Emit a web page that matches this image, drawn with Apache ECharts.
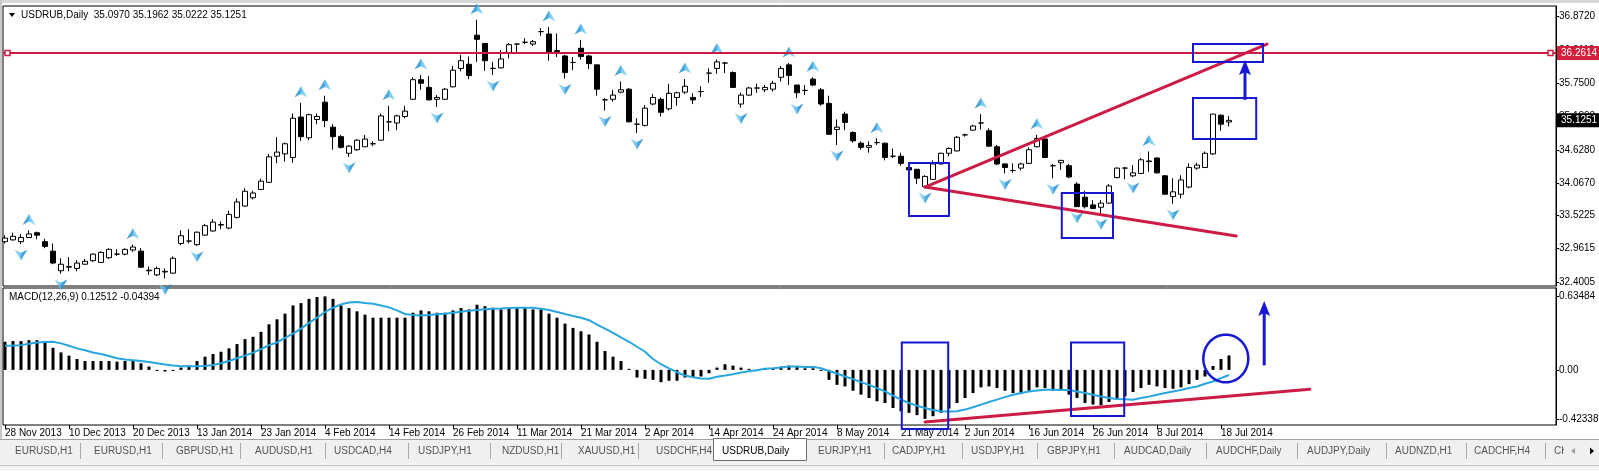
<!DOCTYPE html>
<html><head><meta charset="utf-8">
<script src="https://cdn.jsdelivr.net/npm/echarts@6/dist/echarts.min.js"></script>
<style>html,body{margin:0;padding:0;background:#fff;overflow:hidden}#c{width:1599px;height:471px}</style>
</head><body><div id="c"></div>
<script>
// ---------- data ----------
const dateLabels = ['28 Nov 2013','10 Dec 2013','20 Dec 2013','13 Jan 2014','23 Jan 2014','4 Feb 2014','14 Feb 2014','26 Feb 2014','11 Mar 2014','21 Mar 2014','2 Apr 2014','14 Apr 2014','24 Apr 2014','8 May 2014','21 May 2014','2 Jun 2014','16 Jun 2014','26 Jun 2014','8 Jul 2014','18 Jul 2014'];
const opens = [33.08,33.11,33.08,33.15,33.23,33.08,32.92,32.59,32.65,32.63,
32.70,32.76,32.73,32.81,32.87,32.87,32.94,32.92,32.59,32.52,
32.57,32.55,33.05,33.09,33.03,33.19,33.26,33.36,33.31,33.49,
33.68,33.82,33.96,34.08,34.52,34.56,34.50,35.18,34.83,35.14,
35.43,35.01,34.85,34.57,34.63,34.68,34.73,34.79,35.10,35.08,
35.19,35.48,35.81,35.68,35.48,35.48,35.69,36.00,36.07,36.56,
36.42,36.00,36.01,36.27,36.41,36.44,36.41,36.62,36.58,36.30,
36.21,36.10,36.34,36.21,36.06,35.47,35.48,35.60,35.65,35.06,
35.04,35.40,35.48,35.32,35.51,35.60,35.51,35.61,35.92,36.00,
36.09,35.93,35.40,35.55,35.67,35.64,35.65,35.85,36.06,35.72,
35.63,35.82,35.64,35.41,34.97,35.23,34.92,34.74,34.67,34.75,
34.74,34.52,34.52,34.33,34.30,34.01,34.13,34.39,34.57,34.61,
34.88,34.96,35.08,34.95,34.68,34.39,34.28,34.32,34.40,34.68,
34.81,34.36,34.41,34.36,34.05,33.83,33.70,33.66,33.73,34.16,
34.32,34.19,34.23,34.44,34.49,34.19,33.84,33.88,34.00,34.32,
34.33,34.56,35.21,35.0970];
const highs = [33.19,33.23,33.21,33.27,33.25,33.13,33.05,32.80,32.82,32.77,
32.79,32.88,32.92,32.97,32.95,32.97,33.03,32.97,32.66,32.66,
32.63,32.83,33.27,33.29,33.25,33.38,33.46,33.42,33.60,33.81,
33.98,33.94,34.14,34.56,34.84,34.75,35.24,35.42,35.24,35.24,
35.54,35.06,34.88,34.71,34.81,34.88,34.77,35.24,35.37,35.22,
35.37,35.85,35.89,35.87,35.55,35.67,36.04,36.23,36.20,36.82,
36.43,36.11,36.31,36.43,36.42,36.51,36.48,36.68,36.70,36.59,
36.23,36.19,36.48,36.23,36.06,35.50,35.64,35.78,35.67,35.16,
35.38,35.57,35.51,35.74,35.61,35.82,35.58,35.70,36.00,36.15,
36.11,35.95,35.59,35.69,35.74,35.72,35.79,36.04,36.09,35.72,
35.72,35.85,35.67,35.54,35.14,35.27,34.94,34.77,34.77,34.82,
34.75,34.65,34.58,34.34,34.30,34.20,34.45,34.58,34.67,34.86,
34.90,35.05,35.23,34.99,34.71,34.40,34.40,34.41,34.67,34.88,
34.84,34.39,34.46,34.39,34.08,33.94,33.78,33.78,34.05,34.33,
34.34,34.37,34.49,34.60,34.50,34.20,34.15,34.20,34.40,34.41,
34.60,35.23,35.23,35.1962];
const lows = [33.05,33.10,33.04,33.14,33.12,32.97,32.70,32.54,32.58,32.58,
32.69,32.74,32.72,32.79,32.84,32.85,32.91,32.64,32.52,32.50,
32.46,32.54,33.02,33.05,33.01,33.18,33.25,33.29,33.29,33.47,
33.67,33.79,33.95,34.08,34.40,34.43,34.41,34.78,34.79,35.06,
35.01,34.63,34.65,34.51,34.61,34.68,34.69,34.78,34.94,34.96,
35.16,35.47,35.64,35.46,35.35,35.47,35.68,35.95,35.82,36.11,
35.96,35.89,36.00,36.17,36.27,36.41,36.38,36.55,36.13,36.19,
35.83,35.97,36.15,35.99,35.54,35.29,35.44,35.58,35.09,34.91,
35.02,35.38,35.19,35.29,35.37,35.57,35.40,35.52,35.76,35.91,
35.92,35.68,35.34,35.54,35.59,35.60,35.61,35.78,35.72,35.50,
35.55,35.70,35.37,34.89,34.71,34.96,34.75,34.63,34.58,34.71,
34.45,34.49,34.36,34.28,34.05,34.00,34.12,34.38,34.52,34.60,
34.85,34.95,34.97,34.68,34.37,34.23,34.24,34.28,34.39,34.67,
34.49,34.15,34.29,34.15,33.67,33.64,33.64,33.56,33.72,34.15,
34.13,34.17,34.22,34.26,34.23,33.88,33.72,33.81,33.98,34.29,
34.32,34.54,34.95,35.0222];
const closes = [33.14,33.17,33.15,33.21,33.19,33.00,32.72,32.70,32.66,32.72,
32.75,32.87,32.90,32.95,32.87,32.95,32.99,32.65,32.60,32.63,
32.58,32.80,33.18,33.09,33.24,33.35,33.41,33.37,33.54,33.75,
33.93,33.90,34.10,34.51,34.59,34.73,35.16,34.85,35.22,35.19,
35.12,34.85,34.67,34.69,34.79,34.81,34.73,35.20,35.10,35.20,
35.28,35.81,35.75,35.47,35.51,35.65,35.97,36.13,35.88,36.49,
36.13,36.00,36.16,36.40,36.41,36.44,36.45,36.62,36.27,36.28,
35.93,36.10,36.20,36.08,35.65,35.47,35.55,35.64,35.10,35.06,
35.33,35.51,35.26,35.58,35.59,35.70,35.47,35.61,35.92,36.11,
36.09,35.68,35.55,35.67,35.67,35.68,35.75,36.00,35.88,35.59,
35.63,35.72,35.40,34.89,35.01,35.09,34.78,34.67,34.70,34.75,
34.50,34.52,34.40,34.29,34.15,34.18,34.39,34.57,34.65,34.84,
34.88,35.03,35.08,34.69,34.39,34.33,34.28,34.39,34.63,34.82,
34.50,34.36,34.45,34.17,33.67,33.67,33.64,33.73,34.02,34.32,
34.32,34.24,34.46,34.43,34.24,33.88,33.92,34.12,34.33,34.37,
34.57,35.23,35.06,35.1251];
const macdMain = [0.243,0.249,0.249,0.257,0.257,0.237,0.191,0.151,0.123,0.094,
0.077,0.077,0.077,0.077,0.071,0.077,0.077,0.057,0.029,-0.009,
-0.014,-0.009,0.020,0.037,0.077,0.114,0.137,0.157,0.186,0.223,
0.266,0.286,0.329,0.394,0.437,0.486,0.557,0.577,0.614,0.630,
0.635,0.614,0.557,0.534,0.506,0.477,0.451,0.451,0.451,0.451,
0.451,0.494,0.514,0.506,0.494,0.494,0.514,0.534,0.523,0.563,
0.551,0.537,0.523,0.534,0.534,0.534,0.523,0.523,0.486,0.451,
0.400,0.363,0.334,0.306,0.243,0.163,0.114,0.077,0.009,-0.066,
-0.077,-0.086,-0.106,-0.094,-0.094,-0.066,-0.066,-0.057,-0.029,0.020,
0.049,0.037,0.020,0.009,0.003,0.009,0.014,0.029,0.037,0.029,
0.014,0.014,-0.009,-0.086,-0.129,-0.143,-0.180,-0.214,-0.243,-0.271,
-0.286,-0.329,-0.357,-0.371,-0.391,-0.423,-0.400,-0.371,-0.334,-0.286,
-0.243,-0.200,-0.151,-0.143,-0.157,-0.180,-0.200,-0.209,-0.180,-0.151,
-0.157,-0.180,-0.180,-0.214,-0.243,-0.286,-0.300,-0.306,-0.277,-0.257,
-0.229,-0.191,-0.157,-0.129,-0.143,-0.157,-0.163,-0.151,-0.123,-0.086,
-0.057,0.034,0.094,0.12512];
const macdSignal = [0.209,0.211,0.214,0.225,0.237,0.242,0.243,0.229,0.209,0.186,
0.169,0.151,0.137,0.120,0.100,0.089,0.083,0.077,0.069,0.057,
0.046,0.037,0.031,0.031,0.031,0.034,0.043,0.057,0.077,0.100,
0.123,0.149,0.180,0.214,0.237,0.277,0.314,0.357,0.406,0.451,
0.500,0.537,0.566,0.583,0.586,0.577,0.571,0.557,0.540,0.514,
0.483,0.474,0.471,0.474,0.480,0.486,0.494,0.503,0.511,0.517,
0.523,0.529,0.531,0.534,0.537,0.537,0.537,0.529,0.517,0.500,
0.483,0.466,0.451,0.429,0.391,0.357,0.320,0.280,0.243,0.200,
0.157,0.094,0.049,0.014,-0.020,-0.049,-0.063,-0.074,-0.077,-0.060,
-0.049,-0.037,-0.023,-0.011,-0.003,0.009,0.014,0.020,0.029,0.029,
0.026,0.026,0.014,-0.009,-0.031,-0.057,-0.080,-0.106,-0.129,-0.157,
-0.186,-0.223,-0.257,-0.286,-0.309,-0.329,-0.346,-0.357,-0.360,-0.357,
-0.343,-0.323,-0.300,-0.277,-0.257,-0.235,-0.215,-0.200,-0.186,-0.177,
-0.171,-0.171,-0.174,-0.174,-0.186,-0.200,-0.214,-0.229,-0.243,-0.251,
-0.254,-0.257,-0.243,-0.231,-0.214,-0.200,-0.186,-0.174,-0.157,-0.143,
-0.120,-0.100,-0.071,-0.04394];
const fractalUp = [3,16,37,40,48,52,59,68,72,77,85,89,98,101,109,122,129,143];
const fractalDown = [2,7,20,24,43,54,61,70,75,79,92,99,104,115,125,131,134,137,141,146];
const priceTicks = [36.8720,36.3110,35.7500,35.1890,34.6280,34.0670,33.5225,32.9615,32.4005];
const macdTicks = [0.63484,0,-0.42338];
const dateTickIdx = [0,8,16,24,32,40,48,56,64,72,80,88,96,104,112,120,128,136,144,152];
const hLinePrice = 36.2614;
// annotations drawn on the chart, in (bar index, value) units
const topBoxes = [[113.0,118.0,34.406,33.513],[132.1,138.5,33.900,33.142],[148.5,156.4,35.502,34.811],[148.5,157.25,36.412,36.108]];
const topTrend = [[115,34.0,157.75,36.41],[115,34.0,153.9,33.175]];
const topArrows = [[155,35.47,36.14]];
const macdBoxes = [[112.1,117.9,0.236,-0.510],[133.25,139.9,0.236,-0.399]];
const macdEllipses = [[152.6,0.0986,2.81,0.206]];
const macdTrend = [[115,-0.450,163.1,-0.167]];
const macdArrows = [[157.4,0.039,0.596]];
const tabNames = ['EURUSD,H1','EURUSD,H1','GBPUSD,H1','AUDUSD,H1','USDCAD,H4','USDJPY,H1','NZDUSD,H1','XAUUSD,H1','USDCHF,H4','USDRUB,Daily','EURJPY,H1','CADJPY,H1','USDJPY,H1','GBPJPY,H1','AUDCAD,Daily','AUDCHF,Daily','AUDJPY,Daily','AUDNZD,H1','CADCHF,H4'];
const activeTab = 9;

// ---------- layout ----------
const tabX = [15,94,176,255,334,418,502,578,656,722,818,892,971,1047,1124,1216,1307,1395,1474];
const tabSep = [80,162,240,325,408,490,561,638,884,962,1037,1114,1206,1297,1386,1466,1545];
const FONT = '"Liberation Sans", Arial, sans-serif';
const RED = '#CC1C45', BLUE = '#1818D4', SIG = '#27A6DF';
const XMIN = -0.25, XMAX = 193.875;

const chart = echarts.init(document.getElementById('c'), null, {renderer:'canvas', width:1599, height:471});

const candleData = opens.map((o,i)=>[i, o, closes[i], lows[i], highs[i]]);
const fracGrad = new echarts.graphic.LinearGradient(0,0,1,0,[
  {offset:0,color:'#1580C6'},{offset:0.5,color:'#2396D8'},{offset:0.5,color:'#4DB8EC'},{offset:1,color:'#8ED6F6'}]);
const arrowPath = 'path://M6,0 L12,10 L6,7 L0,10 Z';

function rBox(list){ return (p, api)=>{ const b=list[p.dataIndex]; const a=api.coord([b[0],b[2]]), c=api.coord([b[1],b[3]]);
  return {type:'rect', shape:{x:a[0],y:a[1],width:c[0]-a[0],height:c[1]-a[1]}, style:{fill:'none',stroke:BLUE,lineWidth:2}}; }; }
function rTrend(list,w){ return (p, api)=>{ const t=list[p.dataIndex]; const a=api.coord([t[0],t[1]]), b=api.coord([t[2],t[3]]);
  return {type:'line', shape:{x1:a[0],y1:a[1],x2:b[0],y2:b[1]}, style:{stroke:RED,lineWidth:w,lineCap:'round'}}; }; }
function rArrow(list){ return (p, api)=>{ const t=list[p.dataIndex]; const tail=api.coord([t[0],t[1]]), head=api.coord([t[0],t[2]]);
  return {type:'group', children:[
    {type:'line', shape:{x1:tail[0],y1:tail[1],x2:head[0],y2:head[1]+10}, style:{stroke:BLUE,lineWidth:3}},
    {type:'polygon', shape:{points:[[head[0],head[1]],[head[0]-6,head[1]+15],[head[0],head[1]+12],[head[0]+6,head[1]+15]]}, style:{fill:BLUE}}]}; }; }
function rEllipse(list){ return (p, api)=>{ const e=list[p.dataIndex]; const pts=[];
  for(let k=0;k<60;k++){ const t=k/60*Math.PI*2; pts.push(api.coord([e[0]+e[2]*Math.cos(t), e[1]+e[3]*Math.sin(t)])); }
  return {type:'polygon', shape:{points:pts}, style:{fill:'none',stroke:BLUE,lineWidth:2.5}}; }; }
function rHLine(list){ return (p, api)=>{ const v=list[p.dataIndex][0]; const a=api.coord([XMIN,v]), b=api.coord([XMAX,v]);
  return {type:'group', children:[
    {type:'line', shape:{x1:a[0],y1:a[1],x2:b[0],y2:b[1]}, style:{stroke:RED,lineWidth:2}},
    {type:'rect', shape:{x:a[0]+2,y:a[1]-2.5,width:5,height:5}, style:{fill:'#fff',stroke:RED,lineWidth:1.5}},
    {type:'rect', shape:{x:b[0]-8,y:b[1]-2.5,width:5,height:5}, style:{fill:'#fff',stroke:RED,lineWidth:1.5}}]}; }; }
function rTag(list,bg){ return (p, api)=>{ const v=list[p.dataIndex][0]; const b=api.coord([XMAX,v]);
  return {type:'group', children:[
    {type:'rect', shape:{x:b[0]+1,y:b[1]-7,width:42,height:14}, style:{fill:bg}},
    {type:'text', style:{text:v.toFixed(4), x:b[0]+5, y:b[1], fill:'#fff', font:'10px '+FONT, verticalAlign:'middle', align:'left'}}]}; }; }

function custom(name, list, render, xi, yi, z){ return {type:'custom', name, xAxisIndex:xi, yAxisIndex:yi, data:list.map(d=>[d[0], d[1]===undefined?0:d[1]]), renderItem:render, clip:false, silent:true, z:z||5, animation:false}; }

// frame, title and tab bar graphics
const g = [];
g.push({type:'rect', shape:{x:0,y:0,width:1599,height:3}, style:{fill:'#D8D8D8'}, z:100});
g.push({type:'rect', shape:{x:0,y:0,width:2,height:440}, style:{fill:'#C8C8C8'}, z:100});
g.push({type:'rect', shape:{x:0,y:439,width:1599,height:24}, style:{fill:'#F0F0F0'}, z:100});
g.push({type:'line', shape:{x1:0,y1:439.5,x2:1599,y2:439.5}, style:{stroke:'#A0A0A0',lineWidth:1}, z:101});
g.push({type:'rect', shape:{x:0,y:463,width:1599,height:8}, style:{fill:'#F4F4F4'}, z:100});
g.push({type:'line', shape:{x1:0,y1:465.5,x2:1599,y2:465.5}, style:{stroke:'#C0C0C0',lineWidth:1}, z:101});
g.push({type:'rect', shape:{x:713.5,y:438.5,width:93,height:22}, style:{fill:'#fff',stroke:'#707070',lineWidth:1}, z:102});
tabSep.forEach(x=>g.push({type:'line', shape:{x1:x+0.5,y1:443,x2:x+0.5,y2:459}, style:{stroke:'#A8A8A8',lineWidth:1}, z:101}));
tabNames.forEach((t,k)=>g.push({type:'text', style:{text:t, x:tabX[k], y:451, fill:k===activeTab?'#000':'#555', font:'10px '+FONT, verticalAlign:'middle'}, z:103}));
g.push({type:'text', style:{text:'CHFJPY', x:1554, y:451, fill:'#555', font:'10px '+FONT, verticalAlign:'middle'}, z:103});
g.push({type:'rect', shape:{x:1564,y:440,width:35,height:22}, style:{fill:'#F0F0F0'}, z:104});
g.push({type:'polygon', shape:{points:[[1571,451],[1575,448],[1575,454]]}, style:{fill:'#A0A0A0'}, z:105});
g.push({type:'polygon', shape:{points:[[1594,451],[1590,447.5],[1590,454.5]]}, style:{fill:'#000'}, z:105});
g.push({type:'polygon', shape:{points:[[9,13],[15,13],[12,17]]}, style:{fill:'#000'}, z:105});
g.push({type:'text', style:{text:'USDRUB,Daily  35.0970 35.1962 35.0222 35.1251', x:21, y:15, fill:'#000', font:'10px '+FONT, verticalAlign:'middle'}, z:105});
g.push({type:'text', style:{text:'MACD(12,26,9) 0.12512 -0.04394', x:9, y:297, fill:'#000', font:'10px '+FONT, verticalAlign:'middle'}, z:105});

const axisLbl = {fontSize:10, fontFamily:FONT, color:'#000'};
const option = {
  animation:false,
  backgroundColor:'#fff',
  grid:[
    {left:3, top:6, width:1553, height:280, show:true, borderColor:'#000', borderWidth:1, backgroundColor:'#fff', outerBoundsMode:'none'},
    {left:3, top:288, width:1553, height:137, show:true, borderColor:'#000', borderWidth:1, backgroundColor:'#fff', outerBoundsMode:'none'}
  ],
  xAxis:[
    {type:'value', gridIndex:0, min:XMIN, max:XMAX, show:false, splitLine:{show:false}, axisLine:{onZero:false}},
    {type:'value', gridIndex:1, min:XMIN, max:XMAX, position:'bottom', axisLine:{show:false, onZero:false}, splitLine:{show:false},
     axisTick:{show:true, customValues:dateTickIdx, length:4, lineStyle:{color:'#000'}},
     axisLabel:Object.assign({show:true, customValues:dateTickIdx, formatter:v=>dateLabels[Math.round(v/8)], align:'left', margin:3}, axisLbl)}
  ],
  yAxis:[
    {type:'value', gridIndex:0, position:'right', min:32.333, max:37.052, splitLine:{show:false},
     axisLine:{show:true, onZero:false, lineStyle:{color:'#000'}},
     axisTick:{show:true, customValues:priceTicks, length:3, lineStyle:{color:'#000'}},
     axisLabel:Object.assign({customValues:priceTicks, formatter:v=>v.toFixed(4), margin:3}, axisLbl)},
    {type:'value', gridIndex:1, position:'right', min:-0.476, max:0.7075, splitLine:{show:false},
     axisLine:{show:true, onZero:false, lineStyle:{color:'#000'}},
     axisTick:{show:true, customValues:macdTicks, length:3, lineStyle:{color:'#000'}},
     axisLabel:Object.assign({customValues:macdTicks, formatter:v=>Math.abs(v)<1e-9?'0.00':v.toFixed(5), margin:3}, axisLbl)}
  ],
  series:[
    {type:'candlestick', xAxisIndex:0, yAxisIndex:0, data:candleData, encode:{x:0, y:[1,2,3,4]}, barWidth:5, silent:true,
     itemStyle:{color:'#fff', color0:'#000', borderColor:'#000', borderColor0:'#000', borderColorDoji:'#000', borderWidth:1}},
    {type:'scatter', xAxisIndex:0, yAxisIndex:0, data:fractalUp.map(i=>[i, highs[i]]), symbol:arrowPath, symbolSize:[13,11], symbolOffset:[0,-11], itemStyle:{color:fracGrad}, silent:true, z:4},
    {type:'scatter', xAxisIndex:0, yAxisIndex:0, data:fractalDown.map(i=>[i, lows[i]]), symbol:arrowPath, symbolSize:[13,11], symbolRotate:180, symbolOffset:[0,11], itemStyle:{color:fracGrad}, silent:true, z:4},
    {type:'bar', xAxisIndex:1, yAxisIndex:1, data:macdMain.map((v,i)=>[i,v]), barWidth:3, itemStyle:{color:'#000'}, silent:true},
    {type:'line', xAxisIndex:1, yAxisIndex:1, data:macdSignal.map((v,i)=>[i,v]), showSymbol:false, lineStyle:{color:SIG, width:2}, silent:true, z:3},
    custom('hline', [[hLinePrice]], rHLine([[hLinePrice]]), 0, 0, 6),
    custom('trendTop', topTrend, rTrend(topTrend,3), 0, 0, 7),
    custom('boxesTop', topBoxes, rBox(topBoxes), 0, 0, 8),
    custom('arrowTop', topArrows, rArrow(topArrows), 0, 0, 8),
    custom('tagH', [[hLinePrice]], rTag([[hLinePrice]], '#D21F3C'), 0, 0, 20),
    custom('tagLast', [[closes[closes.length-1]]], rTag([[closes[closes.length-1]]], '#000'), 0, 0, 20),
    custom('trendMacd', macdTrend, rTrend(macdTrend,3), 1, 1, 7),
    custom('boxesMacd', macdBoxes, rBox(macdBoxes), 1, 1, 8),
    custom('ellMacd', macdEllipses, rEllipse(macdEllipses), 1, 1, 8),
    custom('arrowMacd', macdArrows, rArrow(macdArrows), 1, 1, 8)
  ],
  graphic:g
};
chart.setOption(option);
</script></body></html>
